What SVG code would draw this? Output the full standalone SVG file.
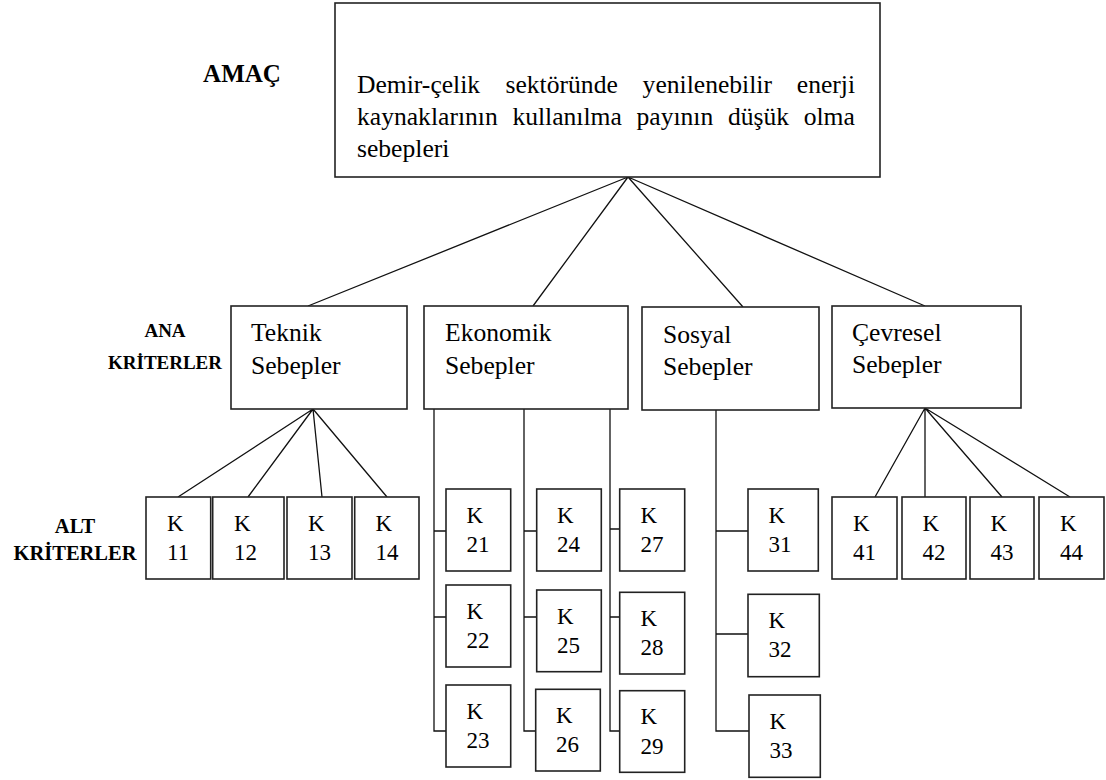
<svg xmlns="http://www.w3.org/2000/svg" width="1106" height="780" viewBox="0 0 1106 780">
<style>
.nodebox{fill:#fff;stroke:#222;stroke-width:1.6}
.conn{fill:none;stroke:#111;stroke-width:1.3}
</style>
<rect width="1106" height="780" fill="#fff"/>
<g id="labels" font-family="Liberation Serif" font-weight="bold" fill="#000" text-anchor="middle">
<text x="242" y="82" font-size="25">AMAÇ</text>
<text x="165" y="337" font-size="19">ANA</text>
<text x="165" y="369" font-size="19">KRİTERLER</text>
<text x="75" y="533" font-size="20.5">ALT</text>
<text x="75" y="560" font-size="20.5">KRİTERLER</text>
</g>
<g id="connectors">
<path class="conn" d="M628,177 L308,306 M628,177 L533,306 M628,177 L743,307 M628,177 L925,306"/>
<path class="conn" d="M313,409 L178,497 M313,409 L248,497 M313,409 L322,497 M313,409 L387,497"/>
<path class="conn" d="M925,408 L875,497 M925,408 L925,497 M925,408 L1002,497 M925,408 L1070,497"/>
<path class="conn" d="M434,409 V731 H446 M434,531 H446 M434,617 H446"/>
<path class="conn" d="M524,409 V731 H536 M524,531 H537 M524,617 H537"/>
<path class="conn" d="M610,409 V731 H620 M610,529 H620 M610,617 H620"/>
<path class="conn" d="M716,410 V731 H749 M716,531 H748 M716,634 H748"/>
</g>
<g id="goal" font-family="Liberation Serif" font-size="25.6" fill="#000">
<rect class="nodebox" x="335" y="3" width="545" height="174"/>
<text y="93"><tspan x="357">Demir-çelik</tspan><tspan x="505.5">sektöründe</tspan><tspan x="642.6">yenilenebilir</tspan><tspan x="796.8">enerji</tspan></text>
<text y="125"><tspan x="357">kaynaklarının</tspan><tspan x="512.4">kullanılma</tspan><tspan x="636.5">payının</tspan><tspan x="727.9">düşük</tspan><tspan x="803.7">olma</tspan></text>
<text x="357" y="157">sebepleri</text>
</g>
<g id="teknik" font-family="Liberation Serif" font-size="25.6" fill="#000">
<rect class="nodebox" x="231" y="306" width="176" height="103"/>
<text x="251" y="341">Teknik</text>
<text x="251" y="374">Sebepler</text>
</g>
<g id="ekonomik" font-family="Liberation Serif" font-size="25.6" fill="#000">
<rect class="nodebox" x="424" y="306" width="204" height="103"/>
<text x="445" y="341">Ekonomik</text>
<text x="445" y="374">Sebepler</text>
</g>
<g id="sosyal" font-family="Liberation Serif" font-size="25.6" fill="#000">
<rect class="nodebox" x="642" y="307" width="177" height="103"/>
<text x="663" y="343">Sosyal</text>
<text x="663" y="375">Sebepler</text>
</g>
<g id="cevresel" font-family="Liberation Serif" font-size="25.6" fill="#000">
<rect class="nodebox" x="832" y="306" width="189" height="102"/>
<text x="852" y="341">Çevresel</text>
<text x="852" y="373">Sebepler</text>
</g>
<g font-family="Liberation Serif" font-size="23" fill="#000">
<g id="k11"><rect class="nodebox" x="146" y="497" width="64.7" height="82"/><text x="167" y="530.5">K</text><text x="167" y="560">11</text></g>
<g id="k12"><rect class="nodebox" x="212.7" y="497" width="71.3" height="82"/><text x="234" y="530.5">K</text><text x="234" y="560">12</text></g>
<g id="k13"><rect class="nodebox" x="287" y="497" width="65" height="82"/><text x="308" y="530.5">K</text><text x="308" y="560">13</text></g>
<g id="k14"><rect class="nodebox" x="354.7" y="497" width="64.3" height="82"/><text x="375.5" y="530.5">K</text><text x="375.5" y="560">14</text></g>
<g id="k21"><rect class="nodebox" x="446" y="489" width="64.7" height="82"/><text x="466.5" y="522.5">K</text><text x="466.5" y="552">21</text></g>
<g id="k22"><rect class="nodebox" x="446" y="585" width="64.7" height="82"/><text x="466.5" y="618.5">K</text><text x="466.5" y="648">22</text></g>
<g id="k23"><rect class="nodebox" x="446" y="685" width="64.7" height="82"/><text x="466.5" y="718.5">K</text><text x="466.5" y="748">23</text></g>
<g id="k24"><rect class="nodebox" x="536.7" y="489" width="64.6" height="82"/><text x="557" y="522.5">K</text><text x="557" y="552">24</text></g>
<g id="k25"><rect class="nodebox" x="536.7" y="590" width="64.6" height="81.7"/><text x="557" y="623.5">K</text><text x="557" y="653">25</text></g>
<g id="k26"><rect class="nodebox" x="535.7" y="689.3" width="64.6" height="81.7"/><text x="556" y="722.8">K</text><text x="556" y="752.3">26</text></g>
<g id="k27"><rect class="nodebox" x="619.7" y="489" width="65" height="82"/><text x="640.5" y="522.5">K</text><text x="640.5" y="552">27</text></g>
<g id="k28"><rect class="nodebox" x="619.7" y="592.3" width="65" height="81.7"/><text x="640.5" y="625.8">K</text><text x="640.5" y="655.3">28</text></g>
<g id="k29"><rect class="nodebox" x="619.7" y="690.7" width="65" height="81.6"/><text x="640.5" y="724.2">K</text><text x="640.5" y="753.7">29</text></g>
<g id="k31"><rect class="nodebox" x="748" y="489" width="70.3" height="82"/><text x="768.5" y="522.5">K</text><text x="768.5" y="552">31</text></g>
<g id="k32"><rect class="nodebox" x="748" y="594.3" width="71.3" height="82.4"/><text x="768.5" y="627.8">K</text><text x="768.5" y="657.3">32</text></g>
<g id="k33"><rect class="nodebox" x="749" y="695" width="71.3" height="82.3"/><text x="769.5" y="728.5">K</text><text x="769.5" y="758">33</text></g>
<g id="k41"><rect class="nodebox" x="832" y="497" width="65" height="82"/><text x="853" y="530.5">K</text><text x="853" y="560">41</text></g>
<g id="k42"><rect class="nodebox" x="902" y="497" width="64" height="82"/><text x="922.5" y="530.5">K</text><text x="922.5" y="560">42</text></g>
<g id="k43"><rect class="nodebox" x="970" y="497" width="64" height="82"/><text x="990.5" y="530.5">K</text><text x="990.5" y="560">43</text></g>
<g id="k44"><rect class="nodebox" x="1039" y="497" width="65" height="82"/><text x="1060" y="530.5">K</text><text x="1060" y="560">44</text></g>
</g>
</svg>
